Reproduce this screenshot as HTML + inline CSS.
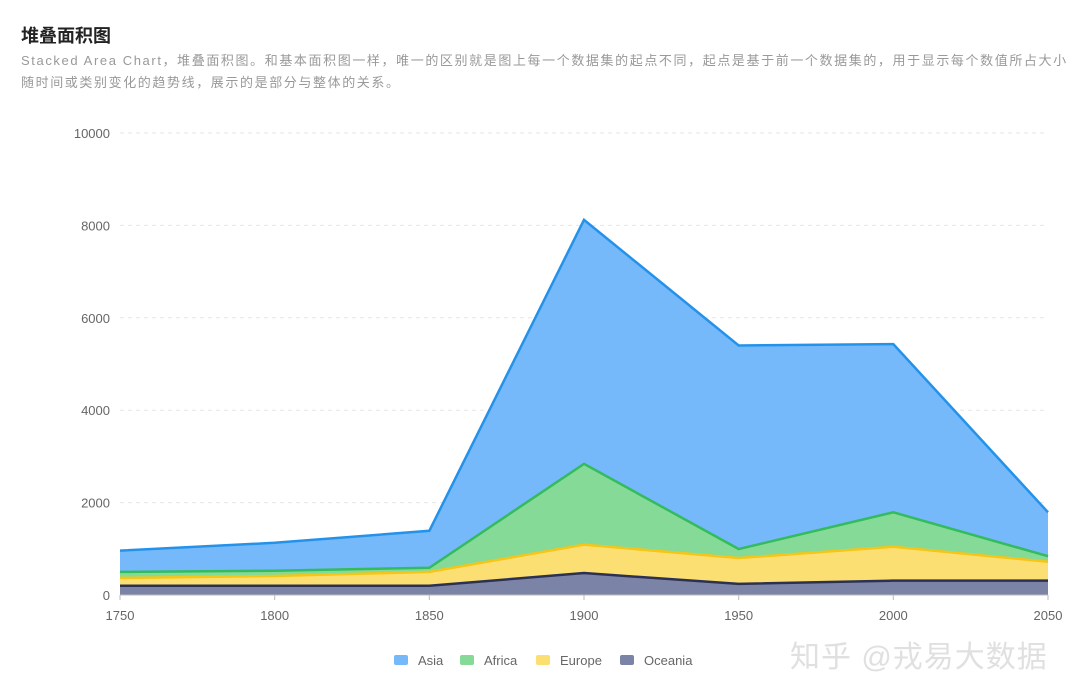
<!DOCTYPE html>
<html><head><meta charset="utf-8"><style>
body{margin:0;width:1080px;height:696px;background:#fff;overflow:hidden;font-family:"Liberation Sans","Noto Sans CJK SC",sans-serif;}
#title{position:absolute;left:21px;top:22px;font-size:18px;font-weight:bold;color:#222;}
#desc{position:absolute;left:21px;top:50px;width:1059px;font-size:13px;line-height:22px;color:#999;letter-spacing:1.6px;white-space:nowrap;}
svg{position:absolute;left:0;top:0;}
#wm{position:absolute;left:790px;top:632px;font-size:30px;color:#e0e0e0;letter-spacing:1px;}
</style></head><body>
<div id="title">堆叠面积图</div>
<div id="desc">Stacked Area Chart，堆叠面积图。和基本面积图一样，唯一的区别就是图上每一个数据集的起点不同，起点是基于前一个数据集的，用于显示每个数值所占大小<br>随时间或类别变化的趋势线，展示的是部分与整体的关系。</div>
<svg id="chart" width="1080" height="696"></svg>
<div id="wm">知乎 @戎易大数据</div>
<script>
const years=[1750,1800,1850,1900,1950,2000,2050];
const oceania=[200,200,200,475,240,310,310];
const europe=[170,210,300,615,560,735,410];
const africa=[130,115,90,1750,195,745,120];
const asia=[460,605,800,5280,4405,3640,950];
const yTicks=[0,2000,4000,6000,8000,10000];
const seriesNames=['Oceania','Europe','Africa','Asia'];
const NS='http://www.w3.org/2000/svg';
const svg=document.getElementById('chart');
const x=v=>120+(v-1750)/300*928;
const y=v=>595-v/10000*462;
function mk(t,a){const e=document.createElementNS(NS,t);for(const k in a)e.setAttribute(k,a[k]);svg.appendChild(e);return e;}
yTicks.forEach(t=>{
  if(t>0){const g=mk('line',{x1:120,x2:1048,y1:y(t),y2:y(t),stroke:'#e6e6e6','stroke-dasharray':'4,4'});
  
  }
  const l=mk('text',{x:110,y:y(t)+5,'text-anchor':'end','font-size':13,fill:'#666'});l.textContent=t;
  
  
});
const data=[oceania,europe,africa,asia];
const fills=['#7b83a6','#fcdf72','#85da98','#75b9fb'];
const strokes=['#2c3152','#f5c518','#33bb5c','#2592ea'];
let base=years.map(()=>0);
const layers=[];
data.forEach((s,i)=>{
  const top=base.map((b,j)=>b+s[j]);
  layers.push({top,base:base.slice()});
  base=top;
});
layers.forEach((L,i)=>{
  let d='M'+years.map((yr,j)=>x(yr)+','+y(L.top[j])).join('L');
  d+='L'+years.map((yr,j)=>x(yr)+','+y(L.base[j])).reverse().join('L')+'Z';
  const a=mk('path',{d,fill:fills[i]});
  
  
});
layers.forEach((L,i)=>{
  const l=mk('polyline',{points:years.map((yr,j)=>x(yr)+','+y(L.top[j])).join(' '),fill:'none',stroke:strokes[i],'stroke-width':2.5});
  
  
});
const ax=mk('line',{x1:120,x2:1048,y1:595,y2:595,stroke:'#bbb'});


years.forEach(yr=>{
  const tk=mk('line',{x1:x(yr),x2:x(yr),y1:595,y2:600,stroke:'#bbb'});
  
  
  const t=mk('text',{x:x(yr),y:620,'text-anchor':'middle','font-size':13,fill:'#666'});t.textContent=yr;
  
  
});
const legend=[['Asia',3,394],['Africa',2,460],['Europe',1,536],['Oceania',0,620]];
legend.forEach(([n,i,lx])=>{
  const r=mk('rect',{x:lx,y:655,width:14,height:10,rx:2,fill:fills[i]});
  
  
  const t=mk('text',{x:lx+24,y:665,'font-size':13,fill:'#666'});t.textContent=n;
  
  
});
</script>
</body></html>
